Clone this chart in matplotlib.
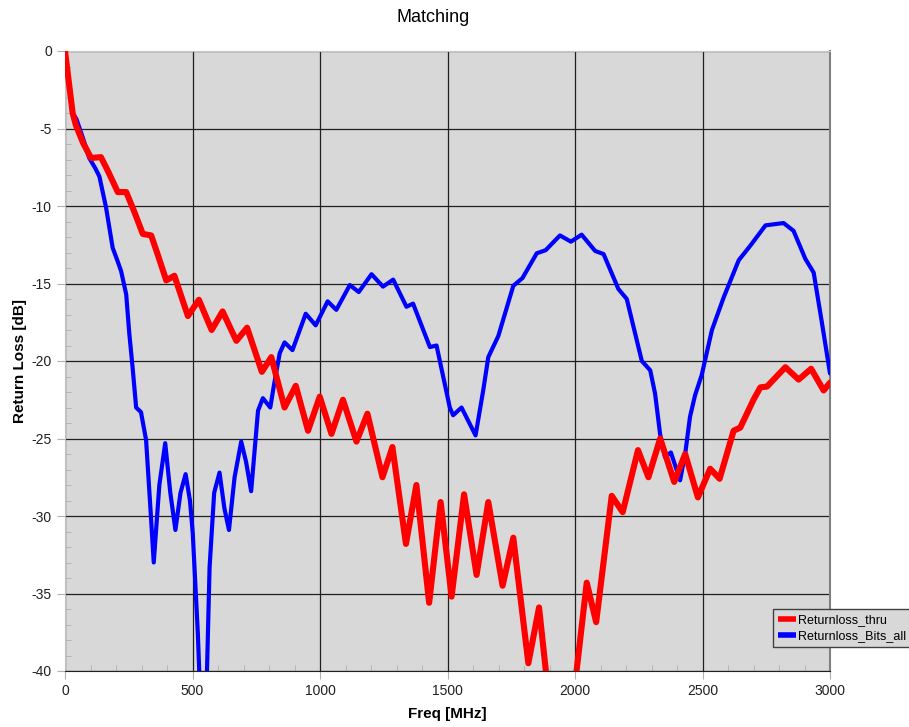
import matplotlib
matplotlib.use("Agg")
import matplotlib.pyplot as plt
from matplotlib.ticker import MultipleLocator

# values (frequency in MHz, return loss in dB)
freq_thru = [0, 30, 43, 70, 102, 141, 170, 207, 240, 270, 305, 338, 365, 397, 429,
             482, 525, 575, 618, 672, 714, 772, 809, 861, 905, 953, 999, 1045, 1090,
             1143, 1186, 1245, 1284, 1337, 1378, 1428, 1473, 1516, 1565, 1614, 1660,
             1716, 1758, 1817, 1859, 1889, 1950, 2004, 2046, 2083, 2144, 2187, 2247,
             2288, 2334, 2389, 2432, 2482, 2530, 2567, 2622, 2648, 2700, 2727, 2753,
             2825, 2877, 2926, 2975, 3000]
rl_thru = [0, -4.0, -4.8, -5.9, -6.9, -6.85, -7.8, -9.1, -9.1, -10.3, -11.8, -11.9,
           -13.2, -14.8, -14.5, -17.1, -16.05, -18.0, -16.8, -18.7, -17.85, -20.7,
           -19.75, -23.0, -21.6, -24.5, -22.3, -24.7, -22.5, -25.2, -23.4, -27.5,
           -25.55, -31.8, -28.0, -35.6, -29.1, -35.2, -28.6, -33.8, -29.1, -34.5,
           -31.4, -39.5, -35.9, -40.5, -46.0, -40.3, -34.3, -36.85, -28.7, -29.75,
           -25.75, -27.5, -25.0, -27.8, -26.0, -28.8, -26.95, -27.6, -24.5, -24.3,
           -22.5, -21.7, -21.65, -20.4, -21.2, -20.5, -21.9, -21.4]

freq_bits = [0, 30, 45, 70, 95, 120, 135, 161, 187, 205, 220, 240, 252, 265, 279,
             298, 318, 335, 348, 370, 393, 413, 433, 453, 473, 490, 501, 521, 540,
             556, 567, 585, 606, 625, 643, 665, 691, 710, 730, 745, 757, 776, 805,
             820, 842, 861, 892, 944, 983, 1030, 1064, 1117, 1152, 1202, 1247, 1287,
             1339, 1365, 1431, 1457, 1509, 1522, 1555, 1610, 1640, 1660, 1699, 1758,
             1794, 1850, 1885, 1941, 1984, 2026, 2079, 2112, 2170, 2203, 2262, 2295,
             2314, 2334, 2353, 2376, 2412, 2432, 2451, 2471, 2497, 2537, 2583, 2642,
             2688, 2747, 2818, 2857, 2903, 2936, 2969, 3000]
rl_bits = [0, -4.0, -4.4, -5.6, -6.9, -7.6, -8.1, -10.1, -12.7, -13.5, -14.2, -15.7,
           -18.2, -20.4, -23.0, -23.3, -25.1, -29.5, -33.0, -28.0, -25.3, -28.5,
           -30.9, -28.5, -27.3, -29.0, -31.1, -37.6, -46.0, -40.5, -33.3, -28.5,
           -27.2, -29.5, -30.9, -27.5, -25.2, -26.5, -28.4, -25.5, -23.2, -22.4,
           -23.0, -21.5, -19.5, -18.8, -19.3, -16.95, -17.7, -16.15, -16.7, -15.1,
           -15.55, -14.4, -15.2, -14.75, -16.5, -16.3, -19.1, -19.0, -23.0, -23.5,
           -23.0, -24.8, -21.9, -19.75, -18.4, -15.15, -14.65, -13.05, -12.85,
           -11.9, -12.3, -11.85, -12.9, -13.1, -15.35, -16.0, -20.0, -20.6, -22.1,
           -24.75, -26.2, -25.9, -27.7, -26.0, -23.6, -22.2, -20.9, -18.0, -15.9,
           -13.5, -12.55, -11.25, -11.1, -11.6, -13.4, -14.3, -17.6, -20.8]

plt.rcParams['font.family'] = ['Liberation Sans', 'DejaVu Sans']
plt.rcParams['axes.unicode_minus'] = False

fig = plt.figure(figsize=(9.09, 7.27), dpi=100)
ax = fig.add_axes([65/909, 1-671/727, 765/909, 620/727])
ax.set_facecolor('#d8d8d8')

l_bits, = ax.plot(freq_bits, rl_bits, color='#0000ff', lw=3.0,
                  solid_joinstyle='round', solid_capstyle='round', zorder=3)
l_thru, = ax.plot(freq_thru, rl_thru, color='#ff0000', lw=4.4,
                  solid_joinstyle='round', solid_capstyle='round', zorder=4)

ax.set_xlim(0, 3000)
ax.set_ylim(-40, 0)
ax.xaxis.set_major_locator(MultipleLocator(500))
ax.xaxis.set_minor_locator(MultipleLocator(100))
ax.yaxis.set_major_locator(MultipleLocator(5))
ax.yaxis.set_minor_locator(MultipleLocator(1))
ax.grid(True, which='major', color='#202020', lw=0.9)
ax.set_axisbelow(True)

ax.tick_params(which='major', direction='out', length=6, color='#b0b0b0',
               labelsize=10, labelcolor='#202020')
ax.tick_params(which='minor', direction='in', length=4, color='#b0b0b0')

ax.spines['left'].set_color('#c0c0c0')
ax.spines['top'].set_color('#c8c8c8')
ax.spines['right'].set_color('#808080')
ax.spines['right'].set_linewidth(1.5)
ax.spines['bottom'].set_color('#202020')

ax.set_xlabel('Freq [MHz]', fontsize=11, fontweight='bold', labelpad=6)
ax.set_ylabel('Return Loss [dB]', fontsize=11, fontweight='bold', labelpad=3)
fig.text(433/909, 1-18/727, 'Matching', ha='center', va='center', fontsize=13)

leg = fig.legend([l_thru, l_bits], ['Returnloss_thru', 'Returnloss_Bits_all'],
                 loc='upper left', bbox_to_anchor=(773/909, 1-609/727),
                 fontsize=9, frameon=True, fancybox=False, handlelength=1.4,
                 handleheight=0.6, borderpad=0.4, labelspacing=0.3, handletextpad=0.2,
                 borderaxespad=0)
leg.get_frame().set_facecolor('#d8d8d8')
leg.get_frame().set_edgecolor('#404040')
leg.get_frame().set_alpha(1)
for h in leg.get_lines():
    h.set_linewidth(4)
    h.set_solid_capstyle('butt')

fig.savefig('out.png', dpi=100)
